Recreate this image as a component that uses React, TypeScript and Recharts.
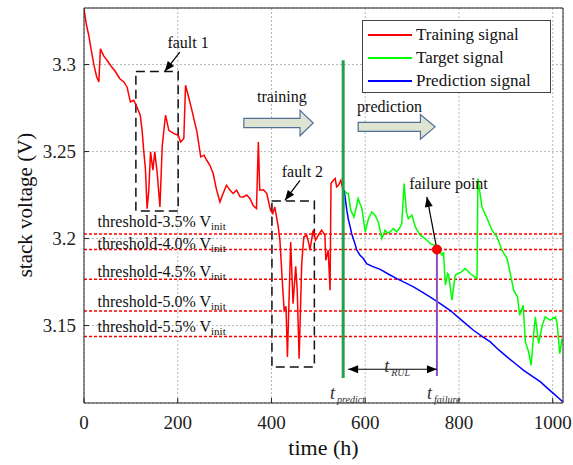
import React from 'react';
import {
  CartesianGrid,
  Legend,
  Line,
  LineChart,
  ReferenceArea,
  ReferenceDot,
  ReferenceLine,
  XAxis,
  YAxis,
} from 'recharts';

const FONT = "'Liberation Serif', 'Times New Roman', 'Liberation Sans', Arial, sans-serif";

// training signal (red)
const trainT = [
  0, 5, 10, 15, 21, 27, 31.6, 35, 42, 49, 58, 67, 76, 85, 92, 96, 99, 106, 113, 120, 124, 127.6, 131,
  134.6, 138, 142, 147, 151, 156, 162, 167, 174, 181, 192, 201, 206, 213, 216.6, 224, 231, 241, 249,
  256, 262, 268.6, 275.6, 282, 290, 297, 304, 311, 318, 325.6, 333, 340, 347, 354, 361, 368, 372, 375,
  383, 390, 398, 403, 407, 414.5, 418, 423, 427, 431, 434, 441, 446, 451.7, 455, 459, 464.5, 469, 475,
  480, 482, 489, 494, 500, 507, 514, 516, 521, 525, 527, 532, 536, 539, 543, 548, 552, 555,
];
const trainV = [
  3.332, 3.323, 3.317, 3.309, 3.3, 3.293, 3.29, 3.309, 3.305, 3.3025, 3.299, 3.296, 3.292, 3.29, 3.287,
  3.282, 3.2785, 3.2795, 3.2756, 3.2709, 3.262, 3.2498, 3.2402, 3.2172, 3.2268, 3.2498, 3.2393, 3.2498,
  3.2383, 3.2182, 3.2536, 3.2709, 3.2622, 3.2603, 3.2594, 3.2555, 3.2575, 3.2881, 3.2805, 3.2728,
  3.2613, 3.2469, 3.2479, 3.245, 3.2421, 3.2374, 3.229, 3.221, 3.226, 3.2306, 3.228, 3.2259, 3.2278,
  3.224, 3.2239, 3.225, 3.223, 3.219, 3.2172, 3.2555, 3.2278, 3.228, 3.2259, 3.2163, 3.2144, 3.2182,
  3.2067, 3.199, 3.176, 3.1588, 3.161, 3.132, 3.198, 3.1626, 3.184, 3.17, 3.131, 3.1856, 3.2009, 3.2019,
  3.197, 3.1933, 3.2048, 3.199, 3.2019, 3.2048, 3.2019, 3.1875, 3.1933, 3.1703, 3.2316, 3.2335, 3.2345,
  3.2297, 3.2306, 3.2335, 3.2287, 3.2278,
];

// target signal (green)
const targetT = [
  555, 560, 564, 569, 576, 581, 585, 589, 593, 600, 607, 614, 621, 628, 635.5, 642.5, 648, 653, 660,
  667.5, 674.6, 678, 683, 688, 692, 699.6, 707, 717, 728, 739, 749.5, 754, 760, 764, 767, 771, 776, 778,
  785, 792, 799, 806, 813.5, 824, 838.5, 840.5, 849, 860, 870.5, 881, 892, 902.5, 909.6, 916.7, 925,
  929.5, 937, 941.7, 948.7, 954, 959.4, 963, 970, 977, 984, 995, 1006, 1009.5, 1015, 1020,
];
const targetV = [
  3.2278, 3.226, 3.2259, 3.2163, 3.2124, 3.218, 3.223, 3.22, 3.2172, 3.2038, 3.2115, 3.2153, 3.2134,
  3.2095, 3.2, 3.2048, 3.203, 3.2038, 3.2057, 3.2038, 3.2067, 3.2086, 3.2316, 3.215, 3.2115, 3.2134,
  3.2067, 3.2019, 3.2, 3.1971, 3.196, 3.1936, 3.192, 3.1904, 3.1922, 3.1732, 3.1799, 3.179, 3.1646,
  3.179, 3.1799, 3.181, 3.1828, 3.1799, 3.177, 3.2345, 3.2182, 3.2115, 3.2048, 3.201, 3.1933, 3.1885,
  3.1799, 3.1703, 3.1664, 3.1559, 3.1617, 3.1406, 3.1348, 3.1272, 3.1454, 3.155, 3.1397, 3.1493, 3.155,
  3.1531, 3.155, 3.1512, 3.1339, 3.1425,
];

// prediction signal (blue)
const predT = [
  555, 557, 560.7, 564, 568, 571, 578, 582, 589, 596, 603, 615, 632, 650, 667.5, 685, 703, 720, 739,
  760, 781, 806, 831, 850, 867, 885, 902.5, 920, 938, 956, 974, 988, 1002, 1012, 1022,
];
const predV = [
  3.2278, 3.2239, 3.2163, 3.211, 3.2067, 3.2029, 3.1971, 3.1934, 3.1904, 3.1885, 3.1856, 3.184, 3.1823,
  3.1795, 3.177, 3.1747, 3.1722, 3.1695, 3.1664, 3.1626, 3.1588, 3.153, 3.1473, 3.1437, 3.1406, 3.136,
  3.132, 3.1282, 3.1243, 3.121, 3.1176, 3.1142, 3.1109, 3.1085, 3.1061,
];

const xTicks = [0, 200, 400, 600, 800, 1000];
const yTicks = [3.15, 3.2, 3.25, 3.3];

const thresholdPct = ['3.5', '4.0', '4.5', '5.0', '5.5'];
const thresholdV = [3.2026, 3.1937, 3.1766, 3.1584, 3.1437];
const thresholdLabelV = [3.2067, 3.194, 3.1779, 3.1607, 3.1463];

const seriesNames = ['Training signal', 'Target signal', 'Prediction signal'];
const seriesColors = ['#ff0000', '#00ff00', '#0000ff'];

// annotation anchors, in data units
const faultBoxT = [[110.7, 200.9], [401, 491.5]];
const faultBoxV = [[3.2159, 3.296], [3.1262, 3.2216]];
const faultLabelT = [178, 422];
const faultLabelV = [3.3097, 3.2352];
const faultArrowFrom = [[204.5, 3.3072], [460.9, 3.2335]];
const faultArrowTo = [[172.4, 3.2961], [428.8, 3.222]];

const tPredict = 553;
const tFailure = 753;
const vFailure = 3.1937;

const stepT = [[341, 489], [585, 749]];
const stepV = [[3.2591, 3.2737], [3.2571, 3.2713]];
const stepName = ['training', 'prediction'];
const stepLabelT = [369, 582.7];
const stepLabelV = [3.2782, 3.2728];

const zip = (ts: number[], vs: number[]) => ts.map((t, i) => ({ t, v: vs[i] }));
const trainData = zip(trainT, trainV);
const targetData = zip(targetT, targetV);
const predData = zip(predT, predV);

function head(x1: number, y1: number, x2: number, y2: number) {
  const a = Math.atan2(y2 - y1, x2 - x1);
  const len = 10;
  const w = 4;
  const bx = x2 - len * Math.cos(a);
  const by = y2 - len * Math.sin(a);
  const px = -Math.sin(a) * w;
  const py = Math.cos(a) * w;
  return `${x2},${y2} ${bx + px},${by + py} ${bx - px},${by - py}`;
}

const arrowShape = (both: boolean) => (p: any) => (
  <g>
    <line x1={p.x1} y1={p.y1} x2={p.x2} y2={p.y2} stroke="#000" strokeWidth={1.2} />
    <polygon points={head(p.x1, p.y1, p.x2, p.y2)} fill="#000" />
    {both && <polygon points={head(p.x2, p.y2, p.x1, p.y1)} fill="#000" />}
  </g>
);

const blockArrow = (p: any) => {
  const { x, y, width: w, height: h } = p;
  const b = x + w * 0.81;
  const pts = [
    [x, y + h * 0.32],
    [b, y + h * 0.32],
    [b, y],
    [x + w, y + h / 2],
    [b, y + h],
    [b, y + h * 0.68],
    [x, y + h * 0.68],
  ]
    .map((q) => q.join(','))
    .join(' ');
  return <polygon points={pts} fill="#dfe4d2" stroke="#4f6f96" strokeWidth={1.2} />;
};

const textAt = (content: React.ReactNode, size = 16, extra: any = {}) => (p: any) => (
  <text x={p.cx} y={p.cy} style={{ fontFamily: FONT }} fontSize={size} fill="#111" {...extra}>
    {content}
  </text>
);

const tLabel = (sub: string) =>
  textAt(
    <>
      <tspan fontSize={18}>t</tspan>
      <tspan fontSize={10} dy={4} dx={2}>
        {sub}
      </tspan>
    </>,
    18,
    { fontStyle: 'italic', fill: '#333' },
  );

function LegendBox() {
  return (
    <div
      style={{
        border: '1px solid #444',
        background: '#fff',
        width: 189,
        height: 73,
        boxSizing: 'border-box',
        paddingTop: 2,
        fontFamily: FONT,
        fontSize: 17,
        lineHeight: '23px',
        color: '#111',
      }}
    >
      {seriesNames.map((name, i) => (
        <div key={name} style={{ display: 'flex', alignItems: 'center', height: 23 }}>
          <div style={{ width: 44, height: 2, background: seriesColors[i], marginLeft: 5, marginRight: 4 }} />
          <span>{name}</span>
        </div>
      ))}
    </div>
  );
}

export default function App() {
  const tick = { fontSize: 19, fill: '#222', style: { fontFamily: FONT } };
  return (
    <div style={{ position: 'absolute', left: 0, top: 0, fontFamily: FONT }}>
      <LineChart
        width={573}
        height={465}
        margin={{ top: 0, right: 0, bottom: 0, left: 0 }}
        style={{ fontFamily: FONT, background: '#fff' }}
      >
        <CartesianGrid stroke="#b8b8b8" strokeDasharray="2 2" />
        <XAxis
          type="number"
          dataKey="t"
          domain={[0, 1022]}
          ticks={xTicks}
          allowDataOverflow
          height={62}
          stroke="#222"
          tick={tick}
          tickSize={-5}
          tickMargin={18}
          label={(p: any) => {
            const vb = p.viewBox || {};
            return (
              <text
                x={vb.x + vb.width / 2}
                y={vb.y + 52}
                textAnchor="middle"
                style={{ fontFamily: FONT }}
                fontSize={22}
                fill="#111"
              >
                time (h)
              </text>
            );
          }}
        />
        <XAxis
          xAxisId="top"
          orientation="top"
          type="number"
          domain={[0, 1022]}
          ticks={xTicks}
          allowDataOverflow
          height={8}
          stroke="#222"
          tick={false}
          tickSize={-5}
        />
        <YAxis
          type="number"
          domain={[3.1055, 3.3325]}
          ticks={yTicks}
          allowDataOverflow
          width={84}
          stroke="#222"
          tick={tick}
          tickSize={-5}
          tickMargin={13}
          label={() => (
            <text
              x={32}
              y={205}
              transform="rotate(-90, 32, 205)"
              textAnchor="middle"
              style={{ fontFamily: FONT }}
              fontSize={21}
              fill="#111"
            >
              stack voltage (V)
            </text>
          )}
        />
        <YAxis
          yAxisId="right"
          orientation="right"
          type="number"
          domain={[3.1055, 3.3325]}
          ticks={yTicks}
          allowDataOverflow
          width={10}
          stroke="#222"
          tick={false}
          tickSize={-5}
        />

        {thresholdV.map((v) => (
          <ReferenceLine key={`th${v}`} y={v} stroke="#ff0000" strokeWidth={1.5} strokeDasharray="3 2" />
        ))}
        {thresholdLabelV.map((v, i) => (
          <ReferenceDot
            key={`tl${i}`}
            x={29}
            y={v}
            r={0}
            shape={(p: any) => (
              <text x={p.cx} y={p.cy} style={{ fontFamily: FONT }} fontSize={16} fill="#111">
                {`threshold-${thresholdPct[i]}% V`}
                <tspan fontSize={11} dy={3}>
                  init
                </tspan>
              </text>
            )}
          />
        ))}

        {faultBoxT.map((tt, i) => (
          <ReferenceArea
            key={`fb${i}`}
            x1={tt[0]}
            x2={tt[1]}
            y1={faultBoxV[i][0]}
            y2={faultBoxV[i][1]}
            fill="none"
            fillOpacity={0}
            stroke="#111"
            strokeWidth={1.5}
            strokeDasharray="9 5"
          />
        ))}

        {stepT.map((tt, i) => (
          <ReferenceArea
            key={`st${i}`}
            x1={tt[0]}
            x2={tt[1]}
            y1={stepV[i][0]}
            y2={stepV[i][1]}
            shape={blockArrow}
          />
        ))}
        {stepName.map((s, i) => (
          <ReferenceDot key={s} x={stepLabelT[i]} y={stepLabelV[i]} r={0} shape={textAt(s)} />
        ))}

        <Line data={trainData} dataKey="v" stroke={seriesColors[0]} strokeWidth={1.5} dot={false} isAnimationActive={false} />
        <Line data={targetData} dataKey="v" stroke={seriesColors[1]} strokeWidth={1.5} dot={false} isAnimationActive={false} />
        <Line data={predData} dataKey="v" stroke={seriesColors[2]} strokeWidth={1.5} dot={false} isAnimationActive={false} />

        <ReferenceLine
          segment={[
            { x: tPredict, y: 3.1198 },
            { x: tPredict, y: 3.3025 },
          ]}
          stroke="#22a04c"
          strokeWidth={3}
        />
        <ReferenceLine
          segment={[
            { x: tFailure, y: 3.121 },
            { x: tFailure, y: vFailure },
          ]}
          stroke="#8a4fc2"
          strokeWidth={2}
        />
        <ReferenceDot x={tFailure} y={vFailure} r={4.5} fill="#ff0000" stroke="#e00000" />

        {faultLabelT.map((t, i) => (
          <ReferenceDot key={`fl${i}`} x={t} y={faultLabelV[i]} r={0} shape={textAt(`fault ${i + 1}`)} />
        ))}
        {faultArrowFrom.map((f, i) => (
          <ReferenceLine
            key={`fa${i}`}
            segment={[
              { x: f[0], y: f[1] },
              { x: faultArrowTo[i][0], y: faultArrowTo[i][1] },
            ]}
            shape={arrowShape(false)}
          />
        ))}

        <ReferenceDot x={693.8} y={3.2283} r={0} shape={textAt('failure point')} />
        <ReferenceLine
          segment={[
            { x: tFailure, y: vFailure },
            { x: 731.6, y: 3.2239 },
          ]}
          shape={arrowShape(false)}
        />
        <ReferenceLine
          segment={[
            { x: 563.5, y: 3.1249 },
            { x: tFailure, y: 3.1249 },
          ]}
          shape={arrowShape(true)}
        />
        <ReferenceDot x={640.4} y={3.1232} r={0} shape={tLabel('RUL')} />
        <ReferenceDot x={525} y={3.1078} r={0} shape={tLabel('predict')} />
        <ReferenceDot x={732} y={3.1078} r={0} shape={tLabel('failure')} />

        <Legend
          layout="vertical"
          align="center"
          verticalAlign="middle"
          wrapperStyle={{ left: 362, top: 20, width: 189 }}
          content={() => <LegendBox />}
        />
      </LineChart>
    </div>
  );
}
